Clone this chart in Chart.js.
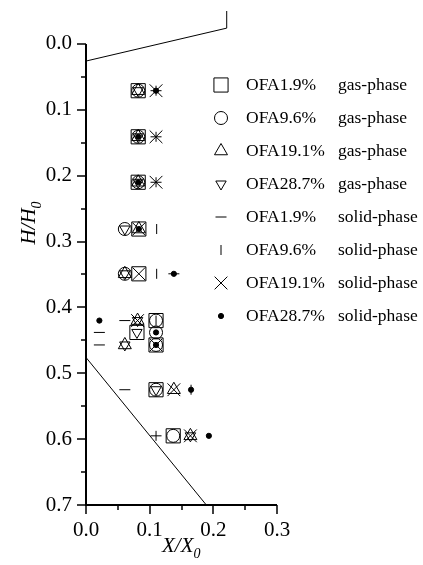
<!DOCTYPE html>
<html>
<head>
<meta charset="utf-8">
<script src="https://cdn.jsdelivr.net/npm/chart.js@4.4.1/dist/chart.umd.min.js"></script>
<style>
	html, body { margin: 0; padding: 0; background: #fff; }
	#wrap { width: 423px; height: 565px; }
</style>
</head>
<body>
<div id="wrap"><canvas id="chart"></canvas></div>
<script>
// Heights H/H0 of the measuring rows
const h = [0.071, 0.141, 0.210, 0.281, 0.349, 0.420, 0.438, 0.457, 0.525, 0.595];

// Gas-phase series (X/X0 and H/H0)
const gas19x = [0.082, 0.082, 0.082, 0.083, 0.083, 0.110, 0.080, 0.110, 0.110, 0.137];
const gas19y = [h[0], h[1], h[2], h[3], h[4], h[5], h[6], h[7], h[8], h[9]];
const gas96x = [0.082, 0.082, 0.082, 0.061, 0.061, 0.110, 0.110, 0.110, 0.110, 0.137];
const gas96y = [h[0], h[1], h[2], h[3], h[4], h[5], h[6], h[7], h[8], h[9]];
const gas191x = [0.082, 0.082, 0.082, 0.083, 0.061, 0.081, 0.061, 0.138, 0.164];
const gas191y = [h[0], h[1], h[2], h[3], h[4], h[5], h[7], h[8], h[9]];
const gas287x = [0.082, 0.082, 0.082, 0.061, 0.061, 0.081, 0.080, 0.061, 0.110, 0.164];
const gas287y = [h[0], h[1], h[2], h[3], h[4], h[5], h[6], h[7], h[8], h[9]];

// Solid-phase series
const sol19x = [0.110, 0.110, 0.110, 0.138, 0.061, 0.021, 0.021, 0.061, 0.110];
const sol19y = [h[0], h[1], h[2], h[4], h[5], h[6], h[7], h[8], h[9]];
const sol96x = [0.110, 0.110, 0.110, 0.111, 0.111, 0.110, 0.165, 0.110];
const sol96y = [h[0], h[1], h[2], h[3], h[4], h[5], h[8], h[9]];
const sol191x = [0.110, 0.110, 0.110, 0.083, 0.083, 0.081, 0.110, 0.138, 0.164];
const sol191y = [h[0], h[1], h[2], h[3], h[4], h[5], h[7], h[8], h[9]];
const sol287x = [0.110, 0.082, 0.082, 0.083, 0.138, 0.021, 0.110, 0.110, 0.165, 0.193];
const sol287y = [h[0], h[1], h[2], h[3], h[4], h[5], h[6], h[7], h[8], h[9]];

// Furnace outline
const wallTopX = [0, 0.221, 0.221];
const wallTopY = [0.026, -0.024, -0.05];
const wallLowX = [0, 0.189];
const wallLowY = [0.476, 0.7];

const names = ['OFA1.9%', 'OFA9.6%', 'OFA19.1%', 'OFA28.7%', 'OFA1.9%', 'OFA9.6%', 'OFA19.1%', 'OFA28.7%'];
const phases = ['gas-phase', 'gas-phase', 'gas-phase', 'gas-phase', 'solid-phase', 'solid-phase', 'solid-phase', 'solid-phase'];
const xTicks = [0, 0.1, 0.2, 0.3];
const yTicks = [0, 0.1, 0.2, 0.3, 0.4, 0.5, 0.6, 0.7];

const SERIF = '"Liberation Serif", "Times New Roman", serif';
const zip = (xs, ys) => xs.map((x, i) => ({x: x, y: ys[i]}));

const marks = [
	{style: 'rect', r: 10, rot: 0, fill: false},
	{style: 'circle', r: 6.5, rot: 0, fill: false},
	{style: 'triangle', r: 7.5, rot: 0, fill: false},
	{style: 'triangle', r: 6, rot: 180, fill: false},
	{style: 'line', r: 5.5, rot: 0, fill: false},
	{style: 'line', r: 5, rot: 90, fill: false},
	{style: 'crossRot', r: 9, rot: 0, fill: false},
	{style: 'circle', r: 2.6, rot: 0, fill: true}
];
const series = [
	zip(gas19x, gas19y), zip(gas96x, gas96y), zip(gas191x, gas191y), zip(gas287x, gas287y),
	zip(sol19x, sol19y), zip(sol96x, sol96y), zip(sol191x, sol191y), zip(sol287x, sol287y)
];

let datasets = series.map((pts, i) => ({
	data: pts,
	showLine: false,
	pointStyle: marks[i].style,
	pointRadius: marks[i].r,
	pointRotation: marks[i].rot,
	pointBorderWidth: 1,
	pointBorderColor: '#000',
	pointBackgroundColor: marks[i].fill ? '#000' : 'rgba(0,0,0,0)'
}));
[zip(wallTopX, wallTopY), zip(wallLowX, wallLowY)].forEach(pts => {
	datasets.push({
		data: pts,
		showLine: true,
		pointRadius: 0,
		borderColor: '#000',
		borderWidth: 1
	});
});

// Axes lines, ticks, titles and legend
const decor = {
	id: 'decor',
	afterDraw(chart) {
		const ctx = chart.ctx;
		const xs = chart.scales.x, ys = chart.scales.y;
		const x0 = xs.getPixelForValue(0), x1 = xs.getPixelForValue(0.3);
		const y0 = ys.getPixelForValue(0), y1 = ys.getPixelForValue(0.7);
		ctx.save();
		ctx.strokeStyle = '#000';
		ctx.lineWidth = 2;
		ctx.beginPath();
		ctx.moveTo(x0, y0);
		ctx.lineTo(x0, y1);
		ctx.lineTo(x1, y1);
		ctx.stroke();
		ctx.lineWidth = 1.5;
		ctx.beginPath();
		for (let i = 0; i <= 14; i++) {
			const py = Math.round(ys.getPixelForValue(i * 0.05));
			ctx.moveTo(x0, py);
			ctx.lineTo(x0 - (i % 2 ? 5 : 9), py);
		}
		for (let i = 0; i <= 6; i++) {
			const px = Math.round(xs.getPixelForValue(i * 0.05));
			ctx.moveTo(px, y1);
			ctx.lineTo(px, y1 + (i % 2 ? 5 : 9));
		}
		ctx.stroke();

		// axis titles
		ctx.fillStyle = '#000';
		ctx.textBaseline = 'alphabetic';
		ctx.textAlign = 'left';
		ctx.font = 'italic 21px ' + SERIF;
		const tx = ctx.measureText('X/X').width;
		ctx.fillText('X/X', 162, 552);
		ctx.font = 'italic 14px ' + SERIF;
		ctx.fillText('0', 162 + tx, 558);

		ctx.save();
		ctx.translate(35, 223);
		ctx.rotate(-Math.PI / 2);
		ctx.font = 'italic 21px ' + SERIF;
		const th = ctx.measureText('H/H').width;
		ctx.font = 'italic 14px ' + SERIF;
		const ts = ctx.measureText('0').width;
		const sx = -(th + ts) / 2;
		ctx.font = 'italic 21px ' + SERIF;
		ctx.fillText('H/H', sx, 0);
		ctx.font = 'italic 14px ' + SERIF;
		ctx.fillText('0', sx + th, 6);
		ctx.restore();

		// legend
		ctx.font = '17.5px ' + SERIF;
		ctx.textBaseline = 'middle';
		names.forEach((name, i) => {
			const ly = 85 + i * 33;
			const m = marks[i];
			ctx.strokeStyle = '#000';
			ctx.fillStyle = m.fill ? '#000' : 'rgba(0,0,0,0)';
			ctx.lineWidth = 1;
			Chart.helpers.drawPoint(ctx, {pointStyle: m.style, radius: m.r, rotation: m.rot, borderWidth: 1}, 221, ly);
			ctx.fillStyle = '#000';
			ctx.fillText(name, 246, ly);
			ctx.fillText(phases[i], 338, ly);
		});
		ctx.restore();
	}
};

new Chart(document.getElementById('chart'), {
	type: 'scatter',
	data: {datasets: datasets},
	plugins: [decor],
	options: {
		responsive: true,
		maintainAspectRatio: false,
		animation: false,
		layout: {
			padding: {left: 0, top: 9, right: 146, bottom: 0}
		},
		plugins: {
			legend: {display: false},
			tooltip: {enabled: false}
		},
		scales: {
			x: {
				type: 'linear',
				min: 0,
				max: 0.3,
				afterBuildTicks: scale => { scale.ticks = xTicks.map(v => ({value: v})); },
				afterFit: scale => {
					scale.height = 60;
					scale.paddingLeft = 0;
					scale.paddingRight = 0;
				},
				grid: {display: false, drawTicks: false},
				border: {display: false},
				ticks: {
					padding: 13,
					color: '#000',
					font: {family: SERIF, size: 21},
					callback: v => v.toFixed(1)
				}
			},
			y: {
				type: 'linear',
				reverse: true,
				min: -0.05,
				max: 0.7,
				afterBuildTicks: scale => { scale.ticks = yTicks.map(v => ({value: v})); },
				afterFit: scale => {
					scale.width = 86;
					scale.paddingTop = 0;
					scale.paddingBottom = 0;
				},
				grid: {display: false, drawTicks: false},
				border: {display: false},
				ticks: {
					padding: 14,
					color: '#000',
					font: {family: SERIF, size: 21},
					callback: v => v.toFixed(1)
				}
			}
		}
	}
});
</script>
</body>
</html>
